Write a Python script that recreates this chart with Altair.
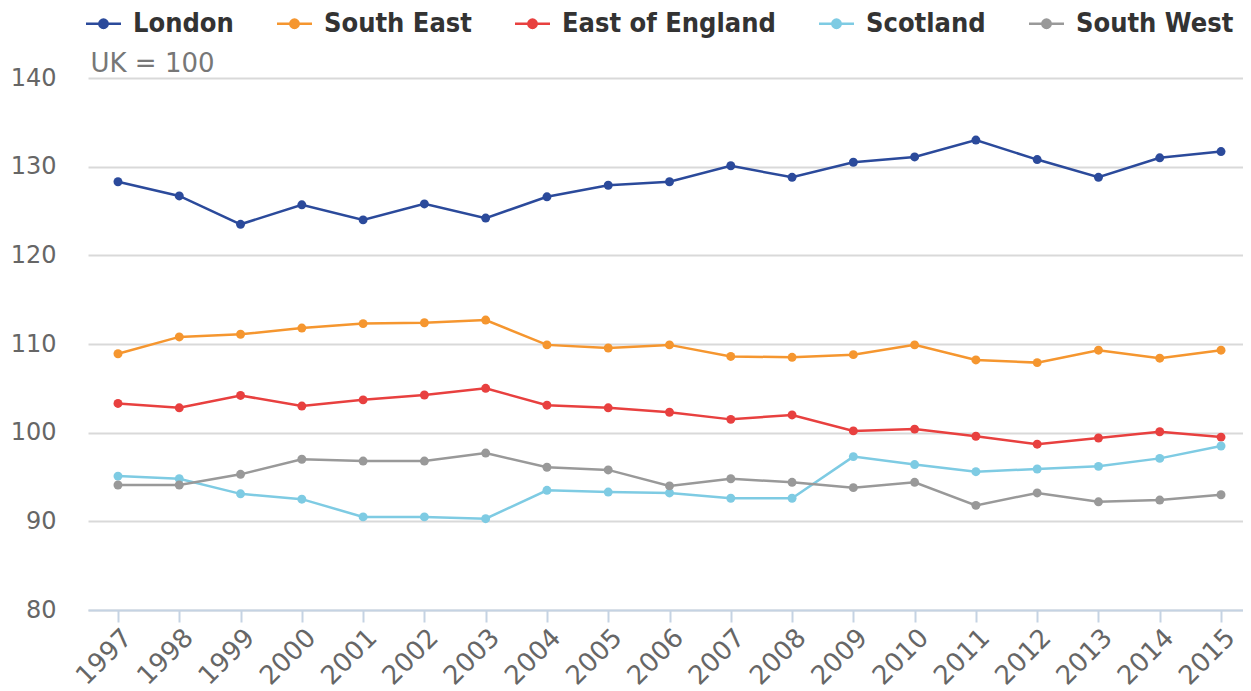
import altair as alt
import pandas as pd

years = [str(y) for y in range(1997, 2016)]
series = ["London", "South East", "East of England", "Scotland", "South West"]
colors = ["#2b4a9b", "#f5962f", "#e8403f", "#7ecbe3", "#999999"]

london = [128.3, 126.7, 123.5, 125.7, 124.0, 125.8, 124.2, 126.6, 127.9, 128.3,
          130.1, 128.8, 130.5, 131.1, 133.0, 130.8, 128.8, 131.0, 131.7]
south_east = [108.9, 110.8, 111.1, 111.8, 112.3, 112.4, 112.7, 109.9, 109.55, 109.9,
              108.6, 108.5, 108.8, 109.9, 108.2, 107.9, 109.3, 108.4, 109.3]
east_england = [103.3, 102.8, 104.2, 103.0, 103.7, 104.25, 105.0, 103.1, 102.8, 102.3,
                101.5, 102.0, 100.2, 100.4, 99.6, 98.7, 99.4, 100.1, 99.5]
scotland = [95.1, 94.8, 93.1, 92.5, 90.5, 90.5, 90.3, 93.5, 93.3, 93.2,
            92.6, 92.6, 97.3, 96.4, 95.6, 95.9, 96.2, 97.1, 98.5]
south_west = [94.1, 94.1, 95.3, 97.0, 96.8, 96.8, 97.7, 96.1, 95.8, 94.0,
              94.8, 94.4, 93.8, 94.4, 91.8, 93.2, 92.2, 92.4, 93.0]

values = [london, south_east, east_england, scotland, south_west]
rows = []
for name, vals in zip(series, values):
    for y, v in zip(years, vals):
        rows.append({"Year": y, "Region": name, "Value": v})
df = pd.DataFrame(rows)

color = alt.Color(
    "Region:N",
    scale=alt.Scale(domain=series, range=colors),
    sort=series,
    legend=alt.Legend(
        title=None,
        orient="top",
        direction="horizontal",
        labelFont="DejaVu Sans Condensed",
        labelFontSize=27,
        labelFontWeight="bold",
        labelColor="#333333",
        labelLimit=400,
        symbolType="M-1.25,0H1.25M-0.3,0A0.3,0.3,0,1,1,0.3,0A0.3,0.3,0,1,1,-0.3,0Z",
        symbolSize=784,
        symbolStrokeWidth=2.5,
        columnPadding=38,
        labelOffset=14,
        offset=41,
    ),
)

base = alt.Chart(df).encode(
    x=alt.X(
        "Year:O",
        scale=alt.Scale(type="point", padding=0.424, align=0.577),
        axis=alt.Axis(
            title=None,
            labelAngle=-45,
            labelFont="DejaVu Sans",
            labelFontSize=26,
            labelColor="#666666",
            domainColor="#c5d3e3",
            domainWidth=2,
            tickColor="#c5d3e3",
            tickWidth=2,
            tickSize=12,
            labelPadding=2,
            grid=False,
        ),
    ),
    y=alt.Y(
        "Value:Q",
        scale=alt.Scale(domain=[80, 140], nice=False, zero=False),
        axis=alt.Axis(
            values=[80, 90, 100, 110, 120, 130, 140],
            title="UK = 100",
            titleAngle=0,
            titleAlign="left",
            titleBaseline="bottom",
            titleX=2,
            titleY=-2,
            titleFont="DejaVu Sans",
            titleFontSize=26,
            titleFontWeight="normal",
            titleColor="#777777",
            labelFont="DejaVu Sans",
            labelFontSize=24,
            labelColor="#666666",
            labelPadding=32,
            domain=False,
            ticks=False,
            gridColor="#d9d9d9",
            gridWidth=2,
        ),
    ),
    color=color,
)

lines = base.mark_line(strokeWidth=2.5)
points = base.mark_point(filled=True, size=80, opacity=1)

chart = (
    alt.layer(lines, points)
    .properties(width=1155, height=532, padding={"left": 2, "top": 0, "right": 0, "bottom": 0})
    .configure_view(stroke=None)
)

chart.save("out.html", embed_options={"renderer": "svg", "actions": False})
